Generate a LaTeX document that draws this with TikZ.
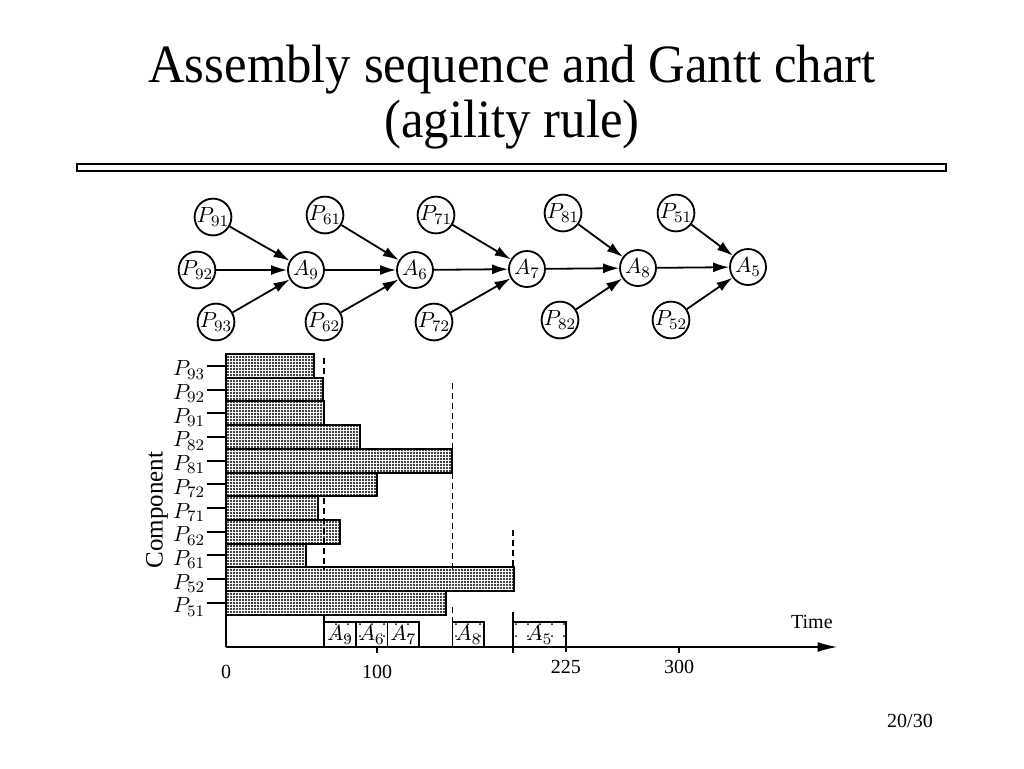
\documentclass[tikz,border=0pt]{standalone}
\usepackage{fontspec}
\setmainfont{Liberation Serif}
\usetikzlibrary{arrows.meta,patterns.meta}

\begin{document}
\begin{tikzpicture}[x=0.5pt,y=-0.5pt,
    part/.style={circle,draw,line width=0.9pt,minimum size=18pt,inner sep=0pt,font=\fontsize{11}{13}\selectfont},
    flow/.style={line width=0.9pt,-{Latex[length=8pt,width=5pt]}},
    bar/.style={draw,line width=1pt,pattern={Dots[distance=1.5pt,radius=0.6pt]}},
    opbox/.style={draw,line width=0.8pt,pattern={Dots[distance=6pt,radius=0.5pt]}},
    guide/.style={line width=0.8pt,dash pattern=on 3pt off 2pt},
    rowlab/.style={font=\fontsize{11}{13}\selectfont,inner sep=0pt},
    axislab/.style={font=\fontsize{10}{12}\selectfont}]
    \useasboundingbox (0,0) rectangle (1024,768);

    % title
    \node[anchor=base,inner sep=0pt] (title1) at (512,82) {\fontsize{27}{32}\selectfont\scalebox{0.94}[1]{Assembly sequence and Gantt chart}};
    \node[anchor=base,inner sep=0pt] (title2) at (512,137) {\fontsize{27}{32}\selectfont\scalebox{0.94}[1]{(agility rule)}};
    \draw[line width=0.8pt] (77,164) rectangle (946,171);
    \node[anchor=base,font=\fontsize{10}{12}\selectfont] (pageno) at (910,727) {20/30};

    % assembly sequence
    \node[part] (p91) at (213,217) {$P_{91}$};
    \node[part] (p92) at (197,270) {$P_{92}$};
    \node[part] (p93) at (216,322) {$P_{93}$};
    \node[part] (a9) at (306,270) {$A_{9}$};
    \node[part] (p61) at (325,215) {$P_{61}$};
    \node[part] (p62) at (324,322) {$P_{62}$};
    \node[part] (a6) at (415,270) {$A_{6}$};
    \node[part] (p71) at (436,215) {$P_{71}$};
    \node[part] (p72) at (434,322) {$P_{72}$};
    \node[part] (a7) at (527,269) {$A_{7}$};
    \node[part] (p81) at (563,213) {$P_{81}$};
    \node[part] (p82) at (560,320) {$P_{82}$};
    \node[part] (a8) at (638,268) {$A_{8}$};
    \node[part] (p51) at (676,213) {$P_{51}$};
    \node[part] (p52) at (671,320) {$P_{52}$};
    \node[part] (a5) at (748,267) {$A_{5}$};

    \draw[flow] (p91) -- (a9);
    \draw[flow] (p92) -- (a9);
    \draw[flow] (p93) -- (a9);
    \draw[flow] (a9) -- (a6);
    \draw[flow] (p61) -- (a6);
    \draw[flow] (p62) -- (a6);
    \draw[flow] (a6) -- (a7);
    \draw[flow] (p71) -- (a7);
    \draw[flow] (p72) -- (a7);
    \draw[flow] (a7) -- (a8);
    \draw[flow] (p81) -- (a8);
    \draw[flow] (p82) -- (a8);
    \draw[flow] (a8) -- (a5);
    \draw[flow] (p51) -- (a5);
    \draw[flow] (p52) -- (a5);

    % gantt chart, x in time units
    \node[rotate=90,font=\fontsize{12.5}{14}\selectfont] (comp) at (157,510) {Component};
    \begin{scope}[shift={(226,0)},xscale=1.51]
        \foreach \lab/\len [count=\i from 0] in {93/58,92/64.5,91/65,82/89,81/149.5,72/100,71/61,62/75.5,61/53,52/191,51/146} {
            \pgfmathsetmacro\rowy{354+23.7*\i}
            \draw[bar] (0,\rowy) rectangle (\len,\rowy+23.7);
            \draw[line width=1pt] (-12.5,\rowy+11.85) -- (0,\rowy+11.85);
            \node[rowlab,anchor=east] (r\lab) at (-13.5,\rowy+16) {$P_{\lab}$};
        }

        \draw[line width=1pt] (0,615) -- (0,647);
        \draw[line width=1pt] (65,615) -- (65,647);
        \foreach \nm/\s/\e in {9/65/86,6/86/107,7/107/128,8/150/171,5/190/225} {
            \draw[opbox] (\s,622) rectangle (\e,647);
            \node[font=\fontsize{11}{13}\selectfont,inner sep=0pt] (op\nm) at ({(\s+\e)/2},635) {$A_{\nm}$};
        }

        % dashed guides
        \draw[guide] (65,358) -- (65,378);
        \draw[guide] (65,498) -- (65,570);
        \draw[guide] (150,383) -- (150,569);
        \draw[guide] (150,607) -- (150,622);
        \draw[guide] (190,530) -- (190,569);
        \draw[line width=0.8pt] (190,612) -- (190,653);

        % time axis
        \coordinate (origin) at (0,647);
        \coordinate (tend) at (405,647);
        \draw[line width=1pt,-{Latex[length=10pt,width=5pt]}] (origin) -- (tend);
        \draw[line width=0.8pt] (100,647) -- (100,653);
        \draw[line width=0.8pt] (225,647) -- (225,652);
        \draw[line width=0.8pt] (300,647) -- (300,653);
        \node[axislab] (t0) at (0,672) {0};
        \node[axislab] (t100) at (100,672) {100};
        \node[axislab] (t225) at (225,667) {225};
        \node[axislab] (t300) at (300,667) {300};
        \node[axislab] (tlab) at (388,622) {Time};
    \end{scope}
\end{tikzpicture}
\end{document}
